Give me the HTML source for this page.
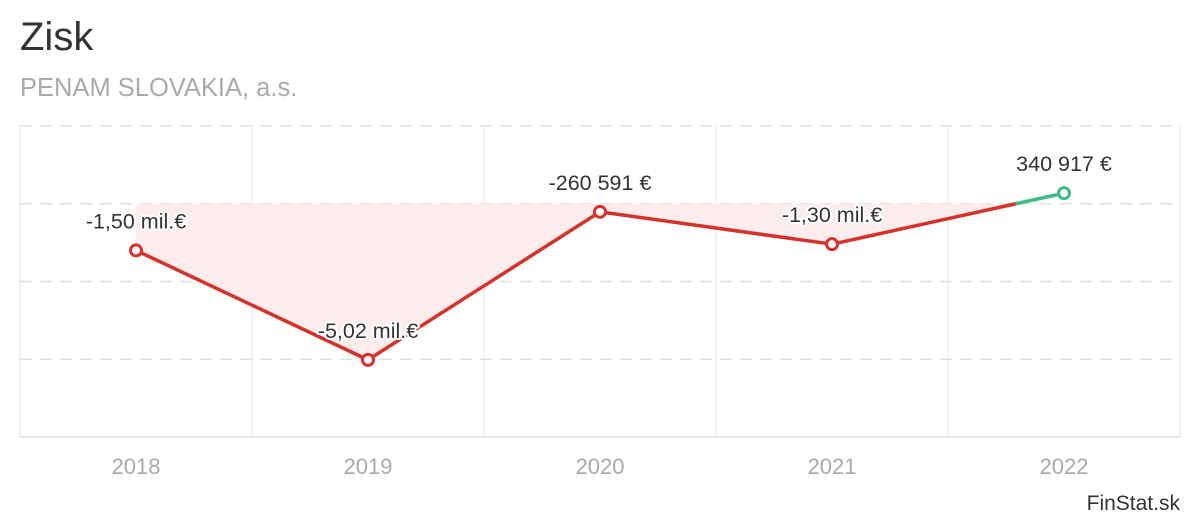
<!DOCTYPE html>
<html><head><meta charset="utf-8"><style>
body{margin:0;background:#fff;font-family:"Liberation Sans",Arial,sans-serif;}
svg text{font-family:"Liberation Sans",Arial,sans-serif;}
</style></head><body>
<svg id="chart" width="1200" height="520" xmlns="http://www.w3.org/2000/svg">
<text x="20" y="50" font-size="40" fill="#333">Zisk</text>
<text x="20" y="96" font-size="25.5" fill="#aaa">PENAM SLOVAKIA, a.s.</text>
<g id="grid"></g><g id="series"></g><g id="labels"></g>
<text x="1180" y="510" font-size="21" fill="#333" text-anchor="end">FinStat.sk</text>
</svg>
<script>
const categories=["2018","2019","2020","2021","2022"];
const values=[-1.50,-5.02,-0.260591,-1.30,0.340917];
const valueLabels=["-1,50 mil.€","-5,02 mil.€","-260 591 €","-1,30 mil.€","340 917 €"];
const yTicks=[2.5,0,-2.5,-5,-7.5];
const NS="http://www.w3.org/2000/svg";
const L=20,R=1180,T=126,B=437,yMax=2.5,yMin=-7.5;
const bw=(R-L)/categories.length;
const x=i=>L+bw*(i+0.5);
const y=v=>T+(yMax-v)/(yMax-yMin)*(B-T);
function mk(tag,attrs,parent){const e=document.createElementNS(NS,tag);for(const k in attrs)e.setAttribute(k,attrs[k]);parent.appendChild(e);return e;}
const grid=document.getElementById('grid'),ser=document.getElementById('series'),lab=document.getElementById('labels');
for(let i=0;i<=categories.length;i++){
 const l=mk('line',{x1:L+bw*i,x2:L+bw*i,y1:T,y2:B,stroke:'#e6e6e6','stroke-width':1},grid);
 
 
}
yTicks.forEach(t=>{
 const last=t===yMin;
 const l=mk('line',{x1:L,x2:R,y1:y(t),y2:y(t),stroke:last?'#ddd':'#e0e0e0','stroke-width':1.5,'stroke-dasharray':last?'':'12,8'},grid);
 
 
});
categories.forEach((c,i)=>{
 const t=mk('text',{x:x(i),y:474,'font-size':22,fill:'#aaa','text-anchor':'middle'},grid);t.textContent=c;
 
 
});
const z=y(0);
let d=`M${x(0)},${z}`;values.forEach((v,i)=>d+=` L${x(i)},${y(v)}`);d+=` L${x(values.length-1)},${z} Z`;
const cp=mk('clipPath',{id:'neg'},ser);
mk('rect',{x:0,y:z,width:1200,height:400},cp);
const area=mk('path',{d:d,fill:'#fcecec','clip-path':'url(#neg)'},ser);


for(let i=0;i<values.length-1;i++){
 const a=values[i],b=values[i+1],x1=x(i),x2=x(i+1);
 const col=v=>v>=0?'#3dbb84':'#d6312b';
 if((a<0)!==(b<0)){
  const f=a/(a-b),xc=x1+(x2-x1)*f;
  const s1=mk('line',{x1:x1,y1:y(a),x2:xc,y2:z,stroke:col(a),'stroke-width':3.5},ser);
  
  
  const s2=mk('line',{x1:xc,y1:z,x2:x2,y2:y(b),stroke:col(b),'stroke-width':3.5},ser);
  
  
 } else {
  const s=mk('line',{x1:x1,y1:y(a),x2:x2,y2:y(b),stroke:col(a),'stroke-width':3.5,'stroke-linecap':'round'},ser);
  
  
 }
}
values.forEach((v,i)=>{
 const c=mk('circle',{cx:x(i),cy:y(v),r:5.5,fill:'#fff',stroke:v>=0?'#3dbb84':'#d6312b','stroke-width':3},ser);
 
 
 const t=mk('text',{x:x(i),y:y(v)-22,'font-size':21.5,fill:'#333','text-anchor':'middle',stroke:'#fff','stroke-width':4,'paint-order':'stroke','stroke-linejoin':'round'},lab);
 t.textContent=valueLabels[i];
 
 
});
</script>
</body></html>
